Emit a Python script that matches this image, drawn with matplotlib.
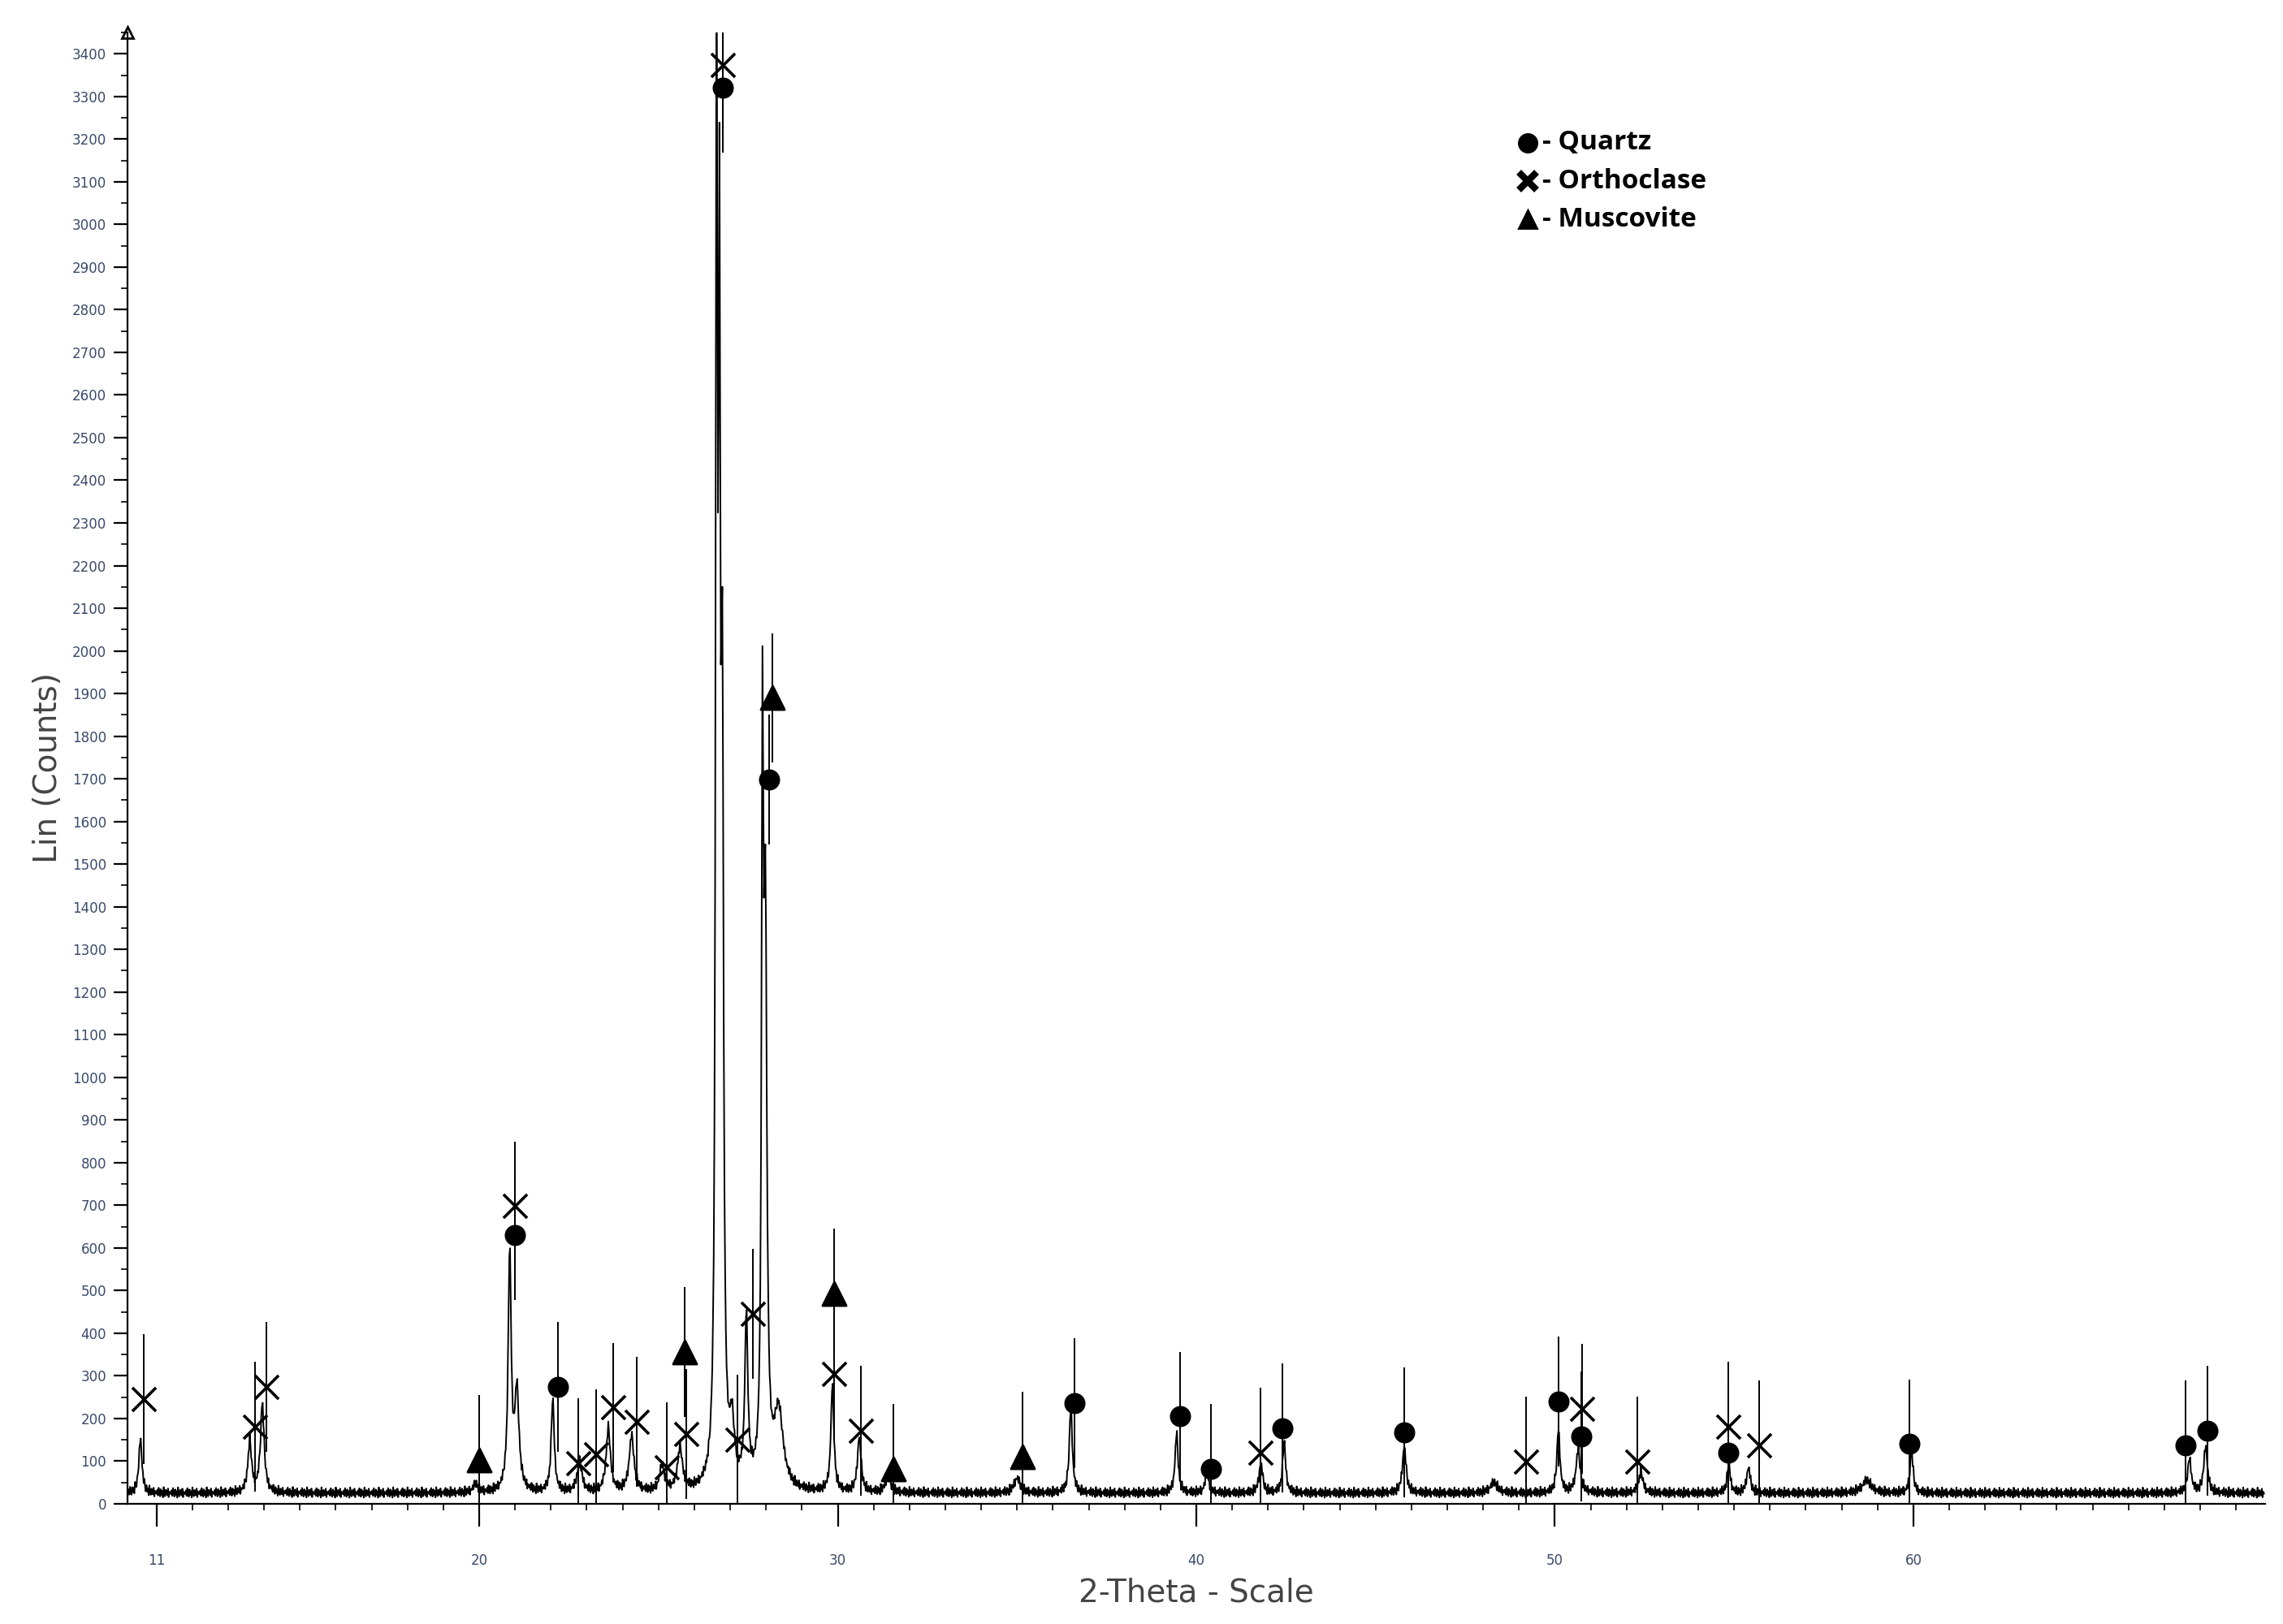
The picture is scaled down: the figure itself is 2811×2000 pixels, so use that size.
import matplotlib
matplotlib.use('Agg')
import numpy as np
import matplotlib.pyplot as plt

# diffraction peaks: position (2-theta), height (counts), width
peak_pos = [10.55, 13.6, 13.95, 19.9, 20.85, 21.05, 22.05, 22.8, 23.6, 24.25, 25.1, 25.6,
            26.62, 26.7, 26.78, 27.05, 27.45, 27.9, 27.98, 28.35, 29.85, 30.6, 31.4, 35.0,
            36.5, 39.45, 40.3, 41.8, 42.45, 45.8, 48.3, 50.1, 50.65, 52.4, 54.85, 55.4,
            58.7, 59.95, 67.7, 68.15]
peak_h = [130, 120, 210, 20, 560, 230, 220, 70, 150, 130, 60, 100,
          3400, 2450, 1700, 130, 390, 1600, 1300, 180, 250, 130, 40, 35,
          200, 140, 50, 70, 120, 110, 25, 150, 100, 50, 70, 60,
          30, 100, 80, 110]
peak_w = [0.05, 0.06, 0.06, 0.08, 0.05, 0.07, 0.05, 0.08, 0.07, 0.08, 0.08, 0.08,
          0.03, 0.03, 0.04, 0.08, 0.05, 0.03, 0.05, 0.15, 0.05, 0.06, 0.08, 0.1,
          0.05, 0.05, 0.06, 0.06, 0.05, 0.06, 0.12, 0.05, 0.07, 0.07, 0.05, 0.06,
          0.15, 0.05, 0.06, 0.06]
# background counts and a hand-read jitter pattern of the noisy baseline
background = 22
jitter = [0, 9, -4, 14, 3, -6, 11, -2, 7, -8, 16, 1, -5, 10, 4, -3, 13, -7, 6, 2]

# phase markers: (2-theta, counts at marker)
quartz_x = [21.0, 22.2, 26.8, 28.09, 36.6, 39.55, 40.4, 42.4, 45.8, 50.1, 50.73, 54.84, 59.9, 67.6, 68.2]
quartz_y = [630, 274, 3321, 1698, 236, 205, 82, 178, 168, 240, 158, 120, 140, 137, 171]
orth_x = [10.65, 13.74, 14.07, 21.0, 22.76, 23.25, 23.74, 24.39, 25.24, 25.77, 26.8, 27.2, 27.64,
          29.9, 30.65, 41.8, 49.2, 50.77, 52.3, 54.84, 55.7]
orth_y = [246, 181, 274, 698, 96, 116, 226, 192, 86, 164, 3373, 150, 445,
          305, 171, 120, 99, 223, 99, 181, 137]
musc_x = [20.0, 25.73, 28.17, 29.9, 31.55, 35.16]
musc_y = [103, 356, 1890, 493, 82, 110]

x = np.arange(10.2, 69.8, 0.02)
y = background + np.array([jitter[i % len(jitter)] for i in range(len(x))], dtype=float)
for p, h, w in zip(peak_pos, peak_h, peak_w):
    y += h / (1 + ((x - p) / w) ** 2)

fig = plt.figure(figsize=(14.055, 10), dpi=200)
ax = fig.add_axes([0.056, 0.074, 0.936, 0.906])
ax.plot(x, y, color='black', lw=0.7)

# reference sticks through the markers
all_x = quartz_x + orth_x + musc_x
all_y = quartz_y + orth_y + musc_y
for mx, my in zip(all_x, all_y):
    ax.plot([mx, mx], [max(my - 150, 0), my + 150], color='black', lw=0.7)

ax.scatter(quartz_x, quartz_y, marker='o', s=70, color='black', zorder=3)
ax.scatter(orth_x, orth_y, marker='x', s=110, color='black', linewidths=1.3, zorder=3)
ax.scatter(musc_x, musc_y, marker='^', s=110, color='black', zorder=3)

ax.set_xlim(10.2, 69.8)
ax.set_ylim(0, 3450)
for s in ['top', 'right']:
    ax.spines[s].set_visible(False)
ax.plot(0, 1, '^', color='black', markersize=5, transform=ax.transAxes, clip_on=False,
        markerfacecolor='none')

ax.set_yticks(np.arange(0, 3401, 100))
ax.set_yticks(np.arange(50, 3451, 100), minor=True)
ax.set_xticks([11, 20, 30, 40, 50, 60])
ax.set_xticks(np.arange(11, 70, 1), minor=True)
ax.tick_params(axis='both', which='major', labelsize=6, labelcolor='#3a4a6a', length=6)
ax.tick_params(axis='both', which='minor', length=3)
ax.tick_params(axis='x', which='major', length=10, pad=12)

ax.set_ylabel('Lin (Counts)', fontsize=14, color='#444444')
ax.set_xlabel('2-Theta - Scale', fontsize=14, color='#444444')

# legend drawn by hand
leg = [('o', '- Quartz'), ('x', '- Orthoclase'), ('^', '- Muscovite')]
for i, (m, t) in enumerate(leg):
    yy = 0.925 - i * 0.026
    ax.plot(0.655, yy, marker=m, color='black', markersize=8, mew=3 if m == 'x' else 1,
            transform=ax.transAxes)
    ax.text(0.662, yy, t, transform=ax.transAxes, fontsize=12, fontweight='bold',
            va='center', family='Open Sans')

fig.savefig('out.png')
